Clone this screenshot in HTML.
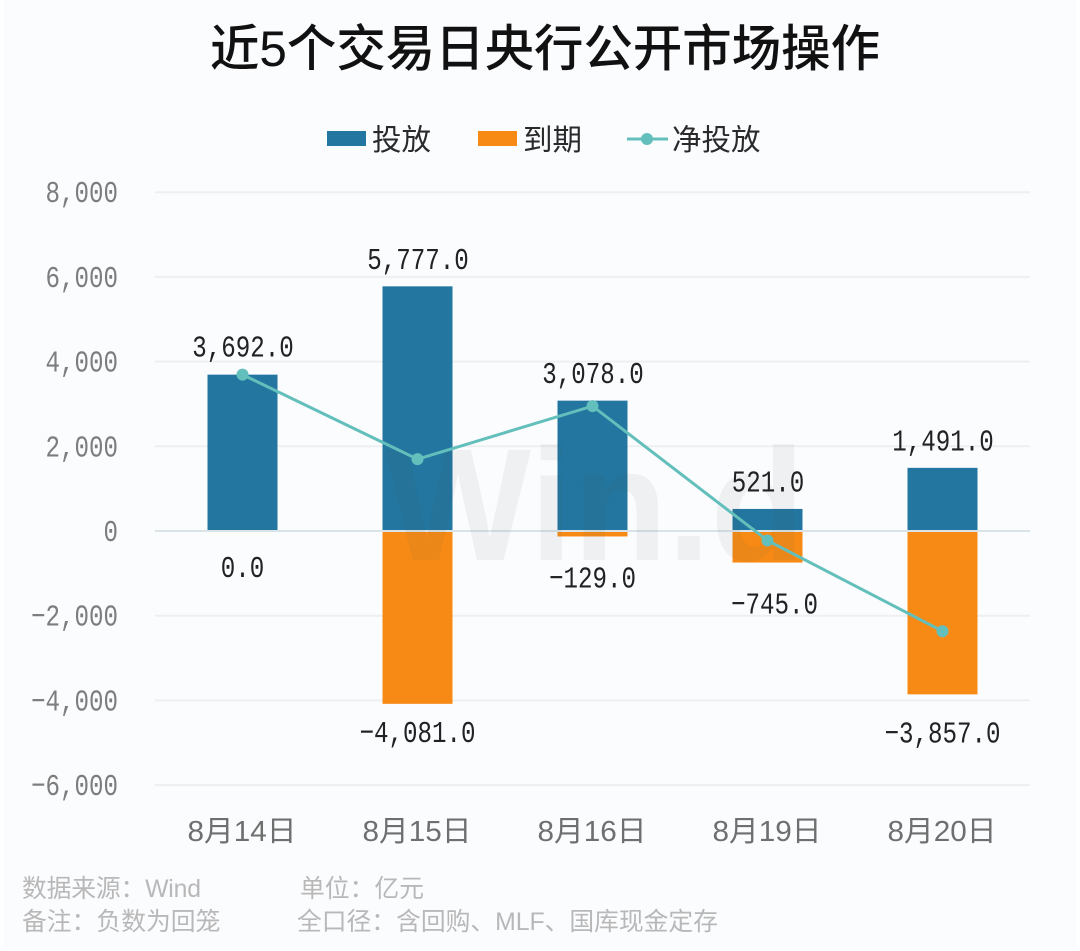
<!DOCTYPE html>
<html lang="zh">
<head>
<meta charset="utf-8">
<title>近5个交易日央行公开市场操作</title>
<style>
html,body{margin:0;padding:0;background:#fff;}
#wrap{position:relative;width:1080px;height:951px;overflow:hidden;background:#fff;}
#chart{position:absolute;left:0;top:0;display:block;}
text{font-family:"Liberation Sans","Noto Sans CJK SC",sans-serif;}
text.mono{font-family:"Liberation Mono","Noto Sans CJK SC",monospace;}
</style>
</head>
<body>
<div id="wrap">
<svg id="chart" width="1080" height="951" viewBox="0 0 1080 951" xmlns="http://www.w3.org/2000/svg">
  <rect x="4" y="0" width="1072" height="947" fill="#fbfcfe"/>
  <text x="545" y="66" text-anchor="middle" font-size="50" font-weight="500" fill="#111" textLength="670" lengthAdjust="spacingAndGlyphs">近5个交易日央行公开市场操作</text>

  <g>
    <g>
      <rect x="327" y="131" width="39" height="15" fill="#22769f"/>
      <text x="372" y="150" font-size="29.5" fill="#2a2a2a">投放</text>
    </g>
    <g>
      <rect x="478" y="131" width="39" height="15" fill="#f78a15"/>
      <text x="523" y="150" font-size="29.5" fill="#2a2a2a">到期</text>
    </g>
    <g>
      <line x1="627" y1="139" x2="668" y2="139" stroke="#63bfbb" stroke-width="3"/>
      <circle cx="647" cy="139" r="6" fill="#63bfbb"/>
      <text x="672" y="150" font-size="29.5" fill="#2a2a2a">净投放</text>
    </g>
  </g>

  <g id="grid"></g>
  <g id="yTicks"></g>
  <g id="xTicks"></g>
  <g id="bars"></g>
  <text x="385" y="560" font-size="160" font-weight="700" fill="#555" fill-opacity="0.07" textLength="420" lengthAdjust="spacingAndGlyphs">Win.d</text>
  <g id="net"></g>
  <g id="labels"></g>

  <g font-size="24.8" fill="#b8b8b8">
    <text x="22" y="897" textLength="179">数据来源：Wind</text>
    <text x="300" y="897">单位：亿元</text>
    <text x="22" y="930">备注：负数为回笼</text>
    <text x="297" y="930" textLength="421">全口径：含回购、MLF、国库现金定存</text>
  </g>
</svg>
</div>
<script>
const categories = ['8月14日', '8月15日', '8月16日', '8月19日', '8月20日'];
const issued = [3692, 5777, 3078, 521, 1491];
const matured = [0, -4081, -129, -745, -3857];
const net = [3692, 1696, 2949, -224, -2366];
const issuedLabels = ['3,692.0', '5,777.0', '3,078.0', '521.0', '1,491.0'];
const maturedLabels = ['0.0', '-4,081.0', '-129.0', '-745.0', '-3,857.0'];
const yTicks = [8000, 6000, 4000, 2000, 0, -2000, -4000, -6000];
const yTickLabels = ['8,000', '6,000', '4,000', '2,000', '0', '−2,000', '−4,000', '−6,000'];

const NS = 'http://www.w3.org/2000/svg';
const plotLeft = 155, plotRight = 1030, barWidth = 70, charWidth = 14.5;
const y = v => 531 - v * 84.7 / 2000;
const x = i => plotLeft + (plotRight - plotLeft) * (i + 0.5) / categories.length;
function make(tag, attrs, parent, content) {
  const el = document.createElementNS(NS, tag);
  for (const k in attrs) el.setAttribute(k, attrs[k]);
  if (content !== undefined) el.textContent = content;
  parent.appendChild(el);
  return el;
}
function monoAttrs(str, px, py, anchor, fill) {
  return {x: px, y: py, 'text-anchor': anchor, 'font-size': 31, fill: fill, class: 'mono',
          textLength: str.length * charWidth, lengthAdjust: 'spacingAndGlyphs'};
}
const gGrid = document.getElementById('grid');
const gY = document.getElementById('yTicks');
const gX = document.getElementById('xTicks');
const gBars = document.getElementById('bars');
const gNet = document.getElementById('net');
const gLabels = document.getElementById('labels');

yTicks.forEach((t, i) => {
  const line = make('line', {x1: plotLeft, x2: plotRight, y1: y(t), y2: y(t), stroke: '#eeeff1', 'stroke-width': 2}, gGrid);
  
  
  const label = make('text', monoAttrs(yTickLabels[i], 118, y(t) + 10, 'end', '#7d7d7d'), gY, yTickLabels[i]);
  
  
});

categories.forEach((c, i) => {
  const label = make('text', {x: x(i) - 0.5, y: 841, 'text-anchor': 'middle', 'font-size': 29, fill: '#6f6f6f', textLength: 109, lengthAdjust: 'spacingAndGlyphs'}, gX, c);
  
  

  const top = make('rect', {x: x(i) - barWidth / 2, y: y(issued[i]), width: barWidth, height: y(0) - y(issued[i]), fill: '#22769f'}, gBars);
  
  

  const bottom = make('rect', {x: x(i) - barWidth / 2, y: y(0), width: barWidth, height: y(matured[i]) - y(0), fill: '#f78a15'}, gBars);
  
  

  const aboveGap = i === 0 ? 18 : 17.5;
  const above = make('text', monoAttrs(issuedLabels[i], x(i) + 0.5, y(issued[i]) - aboveGap, 'middle', '#222'), gLabels, issuedLabels[i]);
  
  

  const belowGap = i === 0 ? 46 : i === 1 ? 38 : i === 4 ? 48 : 51;
  const belowShift = i === 3 ? 7 : 0;
  const belowText = maturedLabels[i].replace('-', '−');
  const below = make('text', monoAttrs(belowText, x(i) + belowShift, y(matured[i]) + belowGap, 'middle', '#222'), gLabels, belowText);
  
  
});

const zero = make('line', {x1: plotLeft, x2: plotRight, y1: y(0), y2: y(0), stroke: '#d9e3e8', 'stroke-width': 2}, gBars);



const path = make('polyline', {points: net.map((v, i) => x(i) + ',' + y(v)).join(' '), fill: 'none', stroke: '#63bfbb', 'stroke-width': 3}, gNet);


net.forEach((v, i) => {
  const dot = make('circle', {cx: x(i), cy: y(v), r: 6, fill: '#63bfbb'}, gNet);
  
  
});
</script>
</body>
</html>
